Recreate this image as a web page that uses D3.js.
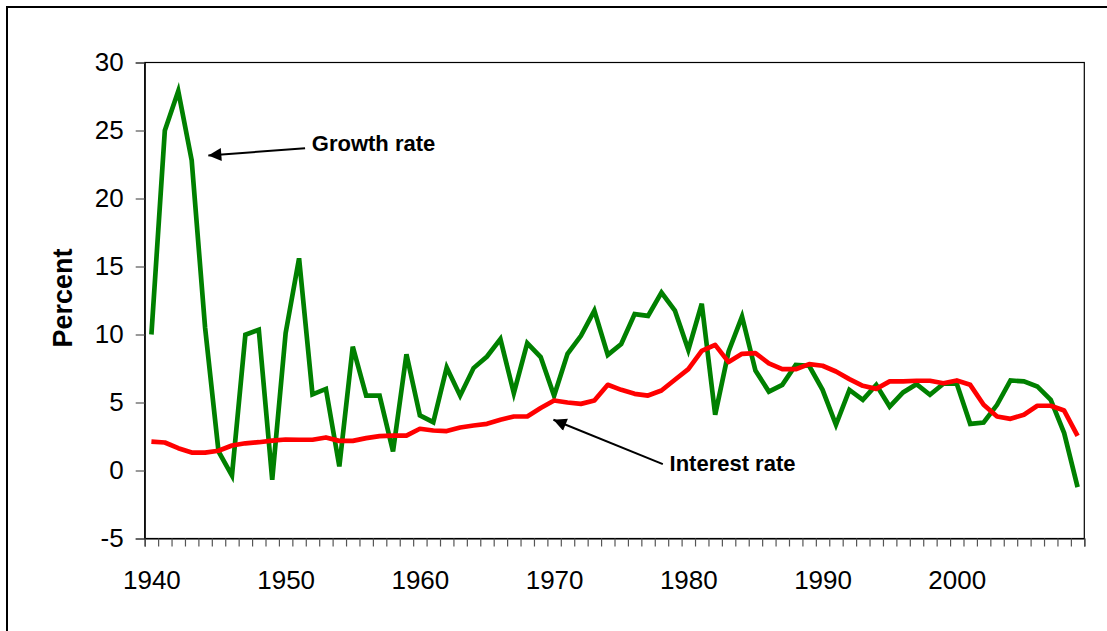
<!DOCTYPE html>
<html>
<head>
<meta charset="utf-8">
<script src="https://cdn.jsdelivr.net/npm/d3@7"></script>
<style>
  html, body { margin: 0; padding: 0; background: #fff; }
  svg { display: block; font-family: Arial, "Liberation Sans", sans-serif; }
</style>
</head>
<body>
<svg id="chart" width="1107" height="631"></svg>
<script>
// ---- data ----
const years = d3.range(1940, 2010);
const growthRate = [10.0, 25.0, 27.9, 22.8, 10.5, 1.4, -0.37, 9.98, 10.35, -0.68,
  10.1, 15.6, 5.6, 6.0, 0.3, 9.1, 5.5, 5.5, 1.4, 8.55,
  4.05, 3.55, 7.57, 5.5, 7.53, 8.38, 9.66, 5.69, 9.37, 8.34,
  5.49, 8.58, 9.9, 11.76, 8.5, 9.3, 11.5, 11.37, 13.09, 11.76,
  8.87, 12.26, 4.1, 8.75, 11.32, 7.35, 5.8, 6.3, 7.77, 7.7,
  5.93, 3.36, 5.93, 5.2, 6.3, 4.7, 5.74, 6.35, 5.57, 6.38,
  6.38, 3.43, 3.53, 4.83, 6.62, 6.55, 6.18, 5.2, 2.75, -1.22];
const interestRate = [2.13, 2.06, 1.64, 1.32, 1.32, 1.45, 1.84, 2.0, 2.08, 2.2,
  2.28, 2.26, 2.26, 2.43, 2.18, 2.18, 2.38, 2.53, 2.57, 2.57,
  3.07, 2.94, 2.9, 3.16, 3.31, 3.43, 3.73, 3.97, 3.97, 4.59,
  5.15, 5.0, 4.9, 5.15, 6.3, 5.93, 5.64, 5.51, 5.88, 6.67,
  7.45, 8.8, 9.24, 7.97, 8.58, 8.63, 7.88, 7.45, 7.45, 7.82,
  7.7, 7.28, 6.72, 6.23, 6.0, 6.55, 6.55, 6.6, 6.6, 6.42,
  6.62, 6.3, 4.83, 3.97, 3.8, 4.1, 4.76, 4.76, 4.41, 2.55];
const xTickLabels = ["1940", "1950", "1960", "1970", "1980", "1990", "2000"];
const yTicks = [-5, 0, 5, 10, 15, 20, 25, 30];
const yLabel = "Percent";
const seriesNames = ["Growth rate", "Interest rate"];

// ---- layout ----
const svg = d3.select("#chart");
const plotL = 144.7, plotR = 1084.3, plotT = 62.5, plotB = 538.5;

// outer frame
svg.append("rect").attr("x", 7).attr("y", 7).attr("width", 1120).attr("height", 640)
  .attr("fill", "none").attr("stroke", "#000").attr("stroke-width", 2);

const x = d3.scaleLinear().domain([1940, 2010]).range([plotL, plotR]);
const y = d3.scaleLinear().domain([-5, 30]).range([plotB, plotT]);

// plot border
svg.append("rect").attr("x", plotL).attr("y", plotT).attr("width", plotR - plotL).attr("height", plotB - plotT)
  .attr("fill", "none").attr("stroke", "#000").attr("stroke-width", 1.2);

// y axis
const yAxis = svg.append("g").attr("transform", `translate(${plotL},0)`)
  .call(d3.axisLeft(y).tickValues(yTicks).tickSize(9).tickPadding(12).tickFormat(d => String(d)));
yAxis.select(".domain").attr("stroke", "#000").attr("stroke-width", 1.2);
yAxis.selectAll(".tick line").attr("stroke", "#555").attr("stroke-width", 1.2);
yAxis.selectAll(".tick text").attr("font-size", 26).attr("fill", "#000")
  .attr("font-family", "Arial, 'Liberation Sans', sans-serif");

// x axis: tick marks at category boundaries
const xAxis = svg.append("g").attr("transform", `translate(0,${plotB})`)
  .call(d3.axisBottom(x).tickValues(d3.range(1940, 2011)).tickSize(8).tickFormat(""));
xAxis.select(".domain").attr("stroke", "#000").attr("stroke-width", 1.2);
xAxis.selectAll(".tick line").attr("stroke", "#555").attr("stroke-width", 1.2);

// x labels at category centres
const labelYears = xTickLabels.map(s => +s + 0.5);
const xLab = svg.append("g").attr("transform", `translate(0,${plotB})`)
  .call(d3.axisBottom(x).tickValues(labelYears).tickSize(0).tickPadding(0)
    .tickFormat((d, i) => xTickLabels[i]));
xLab.select(".domain").remove();
xLab.selectAll(".tick text").attr("font-size", 26).attr("fill", "#000")
  .attr("dy", null).attr("y", 50)
  .attr("font-family", "Arial, 'Liberation Sans', sans-serif");

// y label
svg.append("text").attr("transform", `translate(71.5,298) rotate(-90)`)
  .attr("text-anchor", "middle").attr("font-size", 27).attr("font-weight", "bold")
  .text(yLabel);

// lines
const line = d3.line().x((d, i) => x(years[i] + 0.5)).y(d => y(d));
svg.append("path").datum(growthRate).attr("d", line)
  .attr("fill", "none").attr("stroke", "#008000").attr("stroke-width", 4.7)
  .attr("stroke-linejoin", "miter");
svg.append("path").datum(interestRate).attr("d", line)
  .attr("fill", "none").attr("stroke", "#FF0000").attr("stroke-width", 4.7)
  .attr("stroke-linejoin", "round");

// annotations
const defs = svg.append("defs");
defs.append("marker").attr("id", "arrow").attr("viewBox", "0 0 10 10")
  .attr("refX", 10).attr("refY", 5).attr("markerWidth", 8).attr("markerHeight", 6.5)
  .attr("markerUnits", "strokeWidth").attr("orient", "auto")
  .append("path").attr("d", "M0,0 L10,5 L0,10 Z").attr("fill", "#000");

function annotate(textYear, textVal, fromYear, fromVal, toYear, toVal, label) {
  svg.append("line")
    .attr("x1", x(fromYear)).attr("y1", y(fromVal))
    .attr("x2", x(toYear)).attr("y2", y(toVal))
    .attr("stroke", "#000").attr("stroke-width", 2).attr("marker-end", "url(#arrow)");
  svg.append("text").attr("x", x(textYear)).attr("y", y(textVal))
    .attr("font-size", 22).attr("font-weight", "bold").attr("fill", "#000").text(label);
}
annotate(1952.45, 23.46, 1951.95, 23.7, 1944.74, 23.16, seriesNames[0]);
annotate(1979.1, 0.0, 1978.6, 0.47, 1970.45, 3.73, seriesNames[1]);
</script>
</body>
</html>
